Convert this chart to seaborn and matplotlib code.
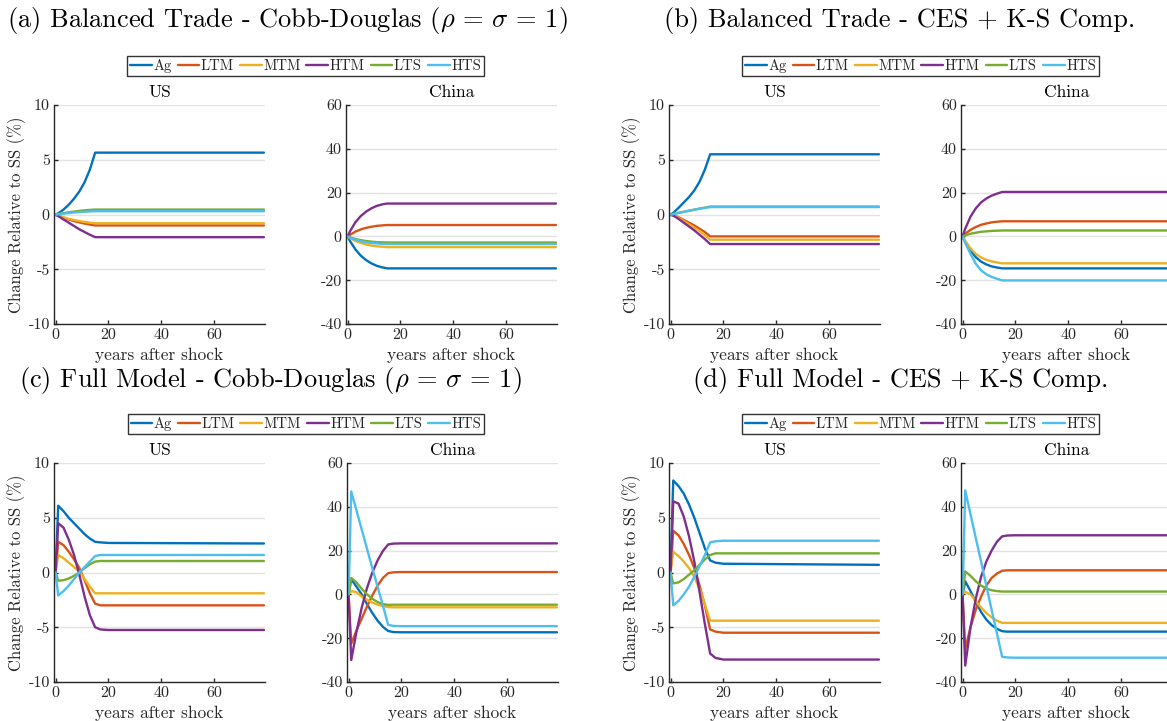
import numpy as np
import pandas as pd
import matplotlib
matplotlib.use("Agg")
import matplotlib.pyplot as plt
from matplotlib.lines import Line2D
import seaborn as sns

# ---------------------------------------------------------------------------
# Transition paths: percent change relative to steady state, by sector
# ---------------------------------------------------------------------------
SECTORS = ["Ag", "LTM", "MTM", "HTM", "LTS", "HTS"]
COLORS = ["#0072BD", "#D95319", "#EDB120", "#7E2F8E", "#77AC30", "#4DBEEE"]
YEARS = [0, 1, 3, 5, 7, 9, 11, 13, 15, 17, 20, 79]

# (a) Balanced trade, Cobb-Douglas
A_US_AG = [0, 0.1, 0.45, 0.9, 1.45, 2.1, 2.95, 4.1, 5.65, 5.65, 5.65, 5.65]
A_US_LTM = [0, -0.1, -0.3, -0.45, -0.6, -0.72, -0.83, -0.92, -1.0, -1.0, -1.0, -1.0]
A_US_MTM = [0, -0.08, -0.25, -0.4, -0.5, -0.6, -0.68, -0.75, -0.8, -0.8, -0.8, -0.8]
A_US_HTM = [0, -0.15, -0.45, -0.75, -1.05, -1.35, -1.6, -1.85, -2.07, -2.07, -2.07, -2.07]
A_US_LTS = [0, 0.04, 0.12, 0.2, 0.27, 0.33, 0.38, 0.42, 0.45, 0.45, 0.45, 0.45]
A_US_HTS = [0, 0.03, 0.08, 0.13, 0.18, 0.22, 0.25, 0.28, 0.3, 0.3, 0.3, 0.3]

A_CN_AG = [0, -2.3, -6.0, -8.8, -10.8, -12.3, -13.4, -14.1, -14.6, -14.6, -14.6, -14.6]
A_CN_LTM = [0, 0.8, 2.2, 3.2, 3.9, 4.4, 4.8, 5.0, 5.2, 5.2, 5.2, 5.2]
A_CN_MTM = [0, -0.8, -2.1, -3.0, -3.7, -4.2, -4.5, -4.7, -4.9, -4.9, -4.9, -4.9]
A_CN_HTM = [0, 2.5, 6.5, 9.3, 11.3, 12.8, 13.9, 14.6, 15.0, 15.0, 15.0, 15.0]
A_CN_LTS = [0, -0.5, -1.2, -1.7, -2.1, -2.4, -2.6, -2.7, -2.8, -2.8, -2.8, -2.8]
A_CN_HTS = [0, -0.6, -1.5, -2.2, -2.7, -3.0, -3.2, -3.4, -3.5, -3.5, -3.5, -3.5]

# (b) Balanced trade, CES + K-S complementarity
B_US_AG = [0, 0.15, 0.6, 1.1, 1.6, 2.2, 3.0, 4.1, 5.5, 5.5, 5.5, 5.5]
B_US_LTM = [0, -0.05, -0.25, -0.5, -0.75, -1.0, -1.3, -1.6, -2.0, -2.0, -2.0, -2.0]
B_US_MTM = [0, -0.07, -0.3, -0.6, -0.9, -1.2, -1.5, -1.9, -2.3, -2.3, -2.3, -2.3]
B_US_HTM = [0, -0.1, -0.4, -0.75, -1.1, -1.45, -1.85, -2.25, -2.7, -2.7, -2.7, -2.7]
B_US_LTS = [0, 0.05, 0.15, 0.25, 0.35, 0.45, 0.54, 0.63, 0.72, 0.72, 0.72, 0.72]
B_US_HTS = [0, 0.04, 0.14, 0.24, 0.34, 0.43, 0.52, 0.6, 0.68, 0.68, 0.68, 0.68]

B_CN_AG = [0, -2.5, -6.5, -9.5, -11.5, -12.8, -13.7, -14.2, -14.6, -14.6, -14.6, -14.6]
B_CN_LTM = [0, 1.2, 3.0, 4.3, 5.3, 5.9, 6.4, 6.7, 6.9, 6.9, 6.9, 6.9]
B_CN_MTM = [0, -2.0, -5.5, -8.0, -9.6, -10.7, -11.4, -11.9, -12.3, -12.3, -12.3, -12.3]
B_CN_HTM = [0, 3.5, 9.0, 12.8, 15.5, 17.3, 18.6, 19.5, 20.3, 20.3, 20.3, 20.3]
B_CN_LTS = [0, 0.5, 1.2, 1.7, 2.1, 2.3, 2.5, 2.6, 2.7, 2.7, 2.7, 2.7]
B_CN_HTS = [0, -3.0, -8.0, -12.5, -15.5, -17.3, -18.5, -19.3, -20.1, -20.1, -20.1, -20.1]

# (c) Full model, Cobb-Douglas
C_US_AG = [0, 6.1, 5.6, 5.0, 4.5, 4.0, 3.5, 3.1, 2.8, 2.75, 2.7, 2.65]
C_US_LTM = [0, 2.8, 2.5, 1.9, 1.2, 0.4, -0.7, -1.9, -2.85, -3.0, -3.0, -3.0]
C_US_MTM = [0, 1.6, 1.3, 0.9, 0.5, 0.1, -0.6, -1.3, -1.9, -1.9, -1.9, -1.9]
C_US_HTM = [0, 4.5, 4.1, 3.0, 1.6, -0.2, -2.2, -3.9, -5.0, -5.2, -5.25, -5.25]
C_US_LTS = [0, -0.75, -0.7, -0.55, -0.3, 0.0, 0.4, 0.75, 1.0, 1.05, 1.05, 1.05]
C_US_HTS = [0, -2.1, -1.7, -1.2, -0.6, 0.0, 0.5, 1.0, 1.5, 1.6, 1.6, 1.6]

C_CN_AG = [0, 7.0, 3.5, 0.0, -4.5, -8.5, -12.0, -14.8, -16.7, -17.2, -17.3, -17.3]
C_CN_LTM = [0, -22.5, -16.5, -11.0, -5.5, -0.5, 4.0, 7.5, 9.7, 10.1, 10.2, 10.2]
C_CN_MTM = [0, 1.5, 1.0, -1.0, -2.5, -3.7, -4.7, -5.3, -5.8, -5.9, -5.9, -5.9]
C_CN_HTM = [0, -30.0, -17.0, -6.0, 3.0, 10.0, 15.5, 19.8, 22.8, 23.2, 23.3, 23.3]
C_CN_LTS = [0, 7.5, 5.5, 2.5, 0.0, -2.0, -3.5, -4.4, -4.8, -4.7, -4.7, -4.7]
C_CN_HTS = [0, 47.0, 38.3, 29.5, 20.8, 12.0, 3.5, -5.0, -13.9, -14.4, -14.5, -14.5]

# (d) Full model, CES + K-S complementarity
D_US_AG = [0, 8.4, 7.9, 7.2, 6.2, 5.0, 3.6, 2.2, 1.1, 0.9, 0.8, 0.7]
D_US_LTM = [0, 3.8, 3.4, 2.6, 1.6, 0.4, -1.2, -3.0, -5.2, -5.4, -5.5, -5.5]
D_US_MTM = [0, 1.9, 1.5, 1.0, 0.4, -0.4, -1.5, -2.9, -4.4, -4.4, -4.4, -4.4]
D_US_HTM = [0, 6.5, 6.3, 5.1, 3.3, 1.0, -1.8, -4.7, -7.4, -7.8, -7.95, -7.95]
D_US_LTS = [0, -1.0, -0.9, -0.6, -0.2, 0.2, 0.7, 1.2, 1.6, 1.75, 1.75, 1.75]
D_US_HTS = [0, -3.0, -2.6, -2.0, -1.3, -0.4, 0.6, 1.6, 2.75, 2.85, 2.9, 2.9]

D_CN_AG = [0, 6.0, 1.5, -3.5, -8.0, -11.5, -14.0, -15.7, -16.8, -17.0, -17.0, -17.0]
D_CN_LTM = [0, -25.0, -15.0, -7.0, -1.0, 4.0, 7.5, 9.5, 10.8, 11.0, 11.0, 11.0]
D_CN_MTM = [0, 1.2, 0.0, -3.0, -6.0, -8.5, -10.5, -12.0, -13.0, -13.0, -13.0, -13.0]
D_CN_HTM = [0, -32.5, -15.0, -2.0, 8.0, 15.0, 20.0, 24.0, 26.5, 26.9, 27.0, 27.0]
D_CN_LTS = [0, 10.5, 8.5, 6.0, 4.0, 2.7, 1.9, 1.5, 1.3, 1.3, 1.3, 1.3]
D_CN_HTS = [0, 47.5, 36.6, 25.8, 15.0, 4.0, -7.0, -17.7, -28.5, -28.8, -28.9, -28.9]

PANEL_TITLES = [
    r"(a) Balanced Trade - Cobb-Douglas ($\rho$ = $\sigma$ = 1)",
    "(b) Balanced Trade - CES + K-S Comp.",
    r"(c) Full Model - Cobb-Douglas ($\rho$ = $\sigma$ = 1)",
    "(d) Full Model - CES + K-S Comp.",
]
COUNTRIES = ["US", "China"]
US_TICKS = [-10, -5, 0, 5, 10]
US_TICK_LABELS = ["-10", "-5", "0", "5", "10"]
CN_TICKS = [-40, -20, 0, 20, 40, 60]
CN_TICK_LABELS = ["-40", "-20", "0", "20", "40", "60"]
X_TICKS = [0, 20, 40, 60]
X_TICK_LABELS = ["0", "20", "40", "60"]

PANELS = {
    "a": ([A_US_AG, A_US_LTM, A_US_MTM, A_US_HTM, A_US_LTS, A_US_HTS],
          [A_CN_AG, A_CN_LTM, A_CN_MTM, A_CN_HTM, A_CN_LTS, A_CN_HTS]),
    "b": ([B_US_AG, B_US_LTM, B_US_MTM, B_US_HTM, B_US_LTS, B_US_HTS],
          [B_CN_AG, B_CN_LTM, B_CN_MTM, B_CN_HTM, B_CN_LTS, B_CN_HTS]),
    "c": ([C_US_AG, C_US_LTM, C_US_MTM, C_US_HTM, C_US_LTS, C_US_HTS],
          [C_CN_AG, C_CN_LTM, C_CN_MTM, C_CN_HTM, C_CN_LTS, C_CN_HTS]),
    "d": ([D_US_AG, D_US_LTM, D_US_MTM, D_US_HTM, D_US_LTS, D_US_HTS],
          [D_CN_AG, D_CN_LTM, D_CN_MTM, D_CN_HTM, D_CN_LTS, D_CN_HTS]),
}


def to_frame(series_list):
    rows = []
    for sector, values in zip(SECTORS, series_list):
        for yr, v in zip(YEARS, values):
            rows.append({"year": yr, "value": v, "sector": sector})
    return pd.DataFrame(rows)


# ---------------------------------------------------------------------------
# Styling
# ---------------------------------------------------------------------------
sns.set_theme(style="white")
plt.rcParams["font.family"] = ["cmr10", "DejaVu Serif"]
plt.rcParams["mathtext.fontset"] = "cm"
plt.rcParams["axes.unicode_minus"] = False
plt.rcParams["axes.formatter.use_mathtext"] = True

W, H = 1167, 721
fig = plt.figure(figsize=(W / 100, H / 100), dpi=100)
fig.patch.set_facecolor("white")

AX_COLOR = "#262626"
palette = dict(zip(SECTORS, COLORS))


def px_axes(left, top, width, height):
    return fig.add_axes([left / W, 1 - (top + height) / H, width / W, height / H])


# pixel layout of each panel: (US left, China left, top, title centre x, title y)
LAYOUT = {
    "a": (54, 346, 105, 287, 21),
    "b": (669, 961, 105, 900, 21),
    "c": (54, 347, 463, 270, 380),
    "d": (669, 961, 463, 901, 380),
}
AX_W, AX_H = 211, 219

for key, title in zip("abcd", PANEL_TITLES):
    us_left, cn_left, top, tx, ty = LAYOUT[key]
    us_data, cn_data = PANELS[key]
    for country, left, data in zip(COUNTRIES, (us_left, cn_left), (us_data, cn_data)):
        ax = px_axes(left, top, AX_W, AX_H)
        df = to_frame(data)
        sns.lineplot(data=df, x="year", y="value", hue="sector", hue_order=SECTORS,
                     palette=palette, legend=False, ax=ax, linewidth=1.7,
                     estimator=None, sort=True)
        ax.set_xlim(-0.6, 79.4)
        if country == "US":
            ax.set_ylim(-10, 10)
            ax.set_yticks(US_TICKS)
            ax.set_yticklabels(US_TICK_LABELS)
            ax.set_ylabel("Change Relative to SS (%)", fontsize=12, color="#262626",
                          labelpad=2)
        else:
            ax.set_ylim(-40, 60)
            ax.set_yticks(CN_TICKS)
            ax.set_yticklabels(CN_TICK_LABELS)
            ax.set_ylabel("")
        ax.set_xticks(X_TICKS)
        ax.set_xticklabels(X_TICK_LABELS)
        ax.set_xlabel("years after shock", fontsize=12.5, color="#262626", labelpad=4)
        ax.set_title(country, fontsize=12.5, color="black", pad=6)
        ax.yaxis.grid(True, color="#e3e3e3", linewidth=1.0)
        ax.xaxis.grid(False)
        ax.set_axisbelow(True)
        for side in ("top", "right"):
            ax.spines[side].set_visible(False)
        for side in ("left", "bottom"):
            ax.spines[side].set_color(AX_COLOR)
            ax.spines[side].set_linewidth(1.0)
        ax.tick_params(axis="both", direction="in", length=3, width=1.0,
                       color=AX_COLOR, labelcolor="#262626", labelsize=11.5, pad=3,
                       left=True, bottom=True)
        ax.set_facecolor("white")

    fig.text(tx / W, 1 - ty / H, title, fontsize=19, ha="center", va="center",
             color="black")

    handles = [Line2D([], [], color=c, linewidth=1.7) for c in COLORS]
    leg_cx = (us_left + cn_left + AX_W) / 2
    leg = fig.legend(handles, SECTORS, loc="center",
                     bbox_to_anchor=(leg_cx / W, 1 - (top - 39) / H),
                     ncol=6, fontsize=10.5, frameon=True, fancybox=False,
                     edgecolor="black", handlelength=1.5, handletextpad=0.1,
                     columnspacing=0.4, borderpad=0.2, borderaxespad=0)
    leg.get_frame().set_linewidth(1.0)

fig.savefig("out.png", dpi=100)
